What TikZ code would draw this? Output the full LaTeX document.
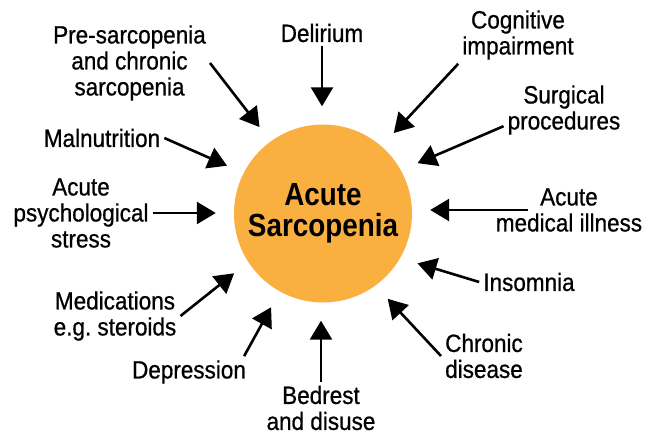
\documentclass[tikz,border=0pt]{standalone}
\usepackage{fontspec}
\setmainfont{Liberation Sans}
\newfontfamily\causefont{Liberation Sans}[FakeStretch=0.9, FakeBold=0.7]
\newfontfamily\sarcfont{Liberation Sans}[FakeStretch=0.87]
\definecolor{sarcorange}{RGB}{250,176,64}
\usetikzlibrary{arrows.meta}

\begin{document}
\begin{tikzpicture}[x=1pt, y=-1pt,
    cause/.style={align=center, inner sep=4pt,
                  font=\causefont\fontsize{25}{26}\selectfont},
    sarc/.style={circle, fill=sarcorange, minimum size=178pt, inner sep=0pt,
                 align=center, font=\sarcfont\bfseries\fontsize{32}{31}\selectfont},
    arr/.style={-{Triangle[length=19pt,width=22pt]}, line width=2.6pt,
                shorten >=18pt}
  ]
    \useasboundingbox (0,0) rectangle (649,434);

    \node[sarc]  (sarc)    at (323,213.5) {Acute\\Sarcopenia};

    \node[cause] (delir)   at (322,33)    {Delirium};
    \node[cause] (presarc) at (129.5,63)  {Pre-sarcopenia\\and chronic\\sarcopenia};
    \node[cause] (malnut)  at (102,138)   {Malnutrition};
    \node[cause] (cogn)    at (518,35)    {Cognitive\\impairment};
    \node[cause] (surg)    at (564,110)   {Surgical\\procedures};
    \node[cause] (illness) at (569,210)   {Acute\\medical illness};
    \node[cause] (insom)   at (529,282)   {Insomnia};
    \node[cause] (psych)   at (81,213)    {Acute\\psychological\\stress};
    \node[cause] (meds)    at (115,316)   {Medications\\e.g.\ steroids};
    \node[cause] (depr)    at (189,372)   {Depression};
    \node[cause] (bedrest) at (321,408)   {Bedrest\\and disuse};
    \node[cause] (chron)   at (484,356)   {Chronic\\disease};

    \draw[arr] (delir.south) -- (delir.south |- sarc.north);
    \draw[arr] (presarc.east) -- (sarc.126);
    \draw[arr] (malnut.east) -- (sarc.153);
    \draw[arr] (cogn.south west) -- (sarc.49);
    \draw[arr] (surg.195) -- (sarc.29);
    \draw[arr] ([xshift=-41pt]illness.center) -- (illness.center -| sarc.east);
    \draw[arr] (insom.west) -- (sarc.-30);
    \draw[arr] (psych.east) -- (psych.east -| sarc.west);
    \draw[arr] (meds.east) -- (sarc.213);
    \draw[arr] ([xshift=-6pt]depr.north east) -- (sarc.241);
    \draw[arr] (bedrest.north) -- (bedrest.north |- sarc.south);
    \draw[arr] (chron.west) -- (sarc.-54);
  \end{tikzpicture}
\end{document}
